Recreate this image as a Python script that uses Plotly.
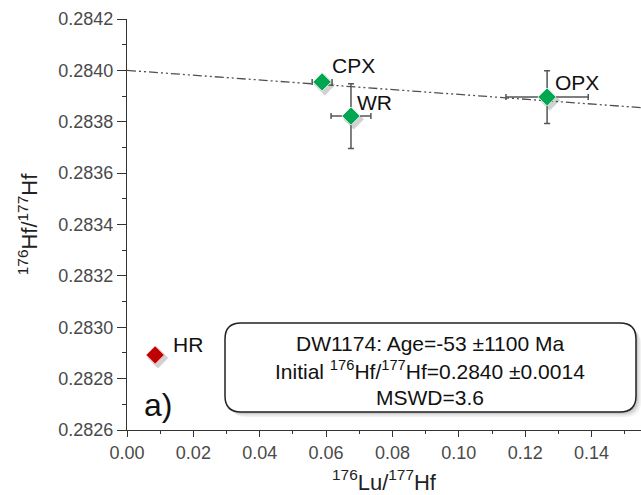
import plotly.graph_objects as go

# Data
names = ["CPX", "WR", "OPX"]
lu_hf = [0.0588, 0.0675, 0.1266]
hf_hf = [0.283955, 0.283822, 0.283896]
err_x = [0.003, 0.006, 0.0124]
err_y = [0.00002, 0.000126, 0.000103]
hr_x = [0.0085]
hr_y = [0.282892]
# isochron
iso_intercept = 0.28400
iso_slope = -0.000936
x_range = [0, 0.1549]
y_range = [0.2826, 0.2842]

W, H = 641, 495
ML, MR, MT, MB = 127, 0, 19, 65
FONT = "Liberation Sans, Arial"

def px(xp):
    return (xp - ML) / (W - ML - MR)

def py(yp):
    return 1 - (yp - MT) / (H - MT - MB)

fig = go.Figure()

# isochron line
lx = [x_range[0], x_range[1]]
ly = [iso_intercept + iso_slope * v for v in lx]
fig.add_trace(go.Scatter(x=lx, y=ly, mode="lines",
                         line=dict(color="#505050", width=1.3, dash="9px,3px,2px,3px,2px,3px"),
                         hoverinfo="skip", showlegend=False))

# shadows
fig.add_trace(go.Scatter(x=[v + 0.0008 for v in lu_hf], y=[v - 0.000012 for v in hf_hf],
                         mode="markers", marker=dict(symbol="diamond", size=16, color="rgba(0,0,0,0.18)"),
                         hoverinfo="skip", showlegend=False))
fig.add_trace(go.Scatter(x=[v + 0.0008 for v in hr_x], y=[v - 0.000012 for v in hr_y],
                         mode="markers", marker=dict(symbol="diamond", size=16, color="rgba(0,0,0,0.18)"),
                         hoverinfo="skip", showlegend=False))

fig.add_trace(go.Scatter(x=lu_hf, y=hf_hf, mode="markers",
                         marker=dict(symbol="diamond", size=14, color="#00a651",
                                     line=dict(color="#d8f0e0", width=1)),
                         error_x=dict(type="data", array=err_x, color="#555555", thickness=1.5, width=3),
                         error_y=dict(type="data", array=err_y, color="#555555", thickness=1.5, width=3),
                         showlegend=False))
fig.add_trace(go.Scatter(x=hr_x, y=hr_y, mode="markers",
                         marker=dict(symbol="diamond", size=14, color="#c00000",
                                     line=dict(color="#f0c0c0", width=1)),
                         showlegend=False))

# point labels
offsets = {"CPX": (8, -16), "WR": (4, -14), "OPX": (6, -15)}
for n, x, y in zip(names, lu_hf, hf_hf):
    dx, dy = offsets[n]
    fig.add_annotation(x=x, y=y, text=n, showarrow=True, arrowcolor="rgba(0,0,0,0)",
                       ax=dx, ay=dy, xanchor="left", yanchor="middle",
                       font=dict(family=FONT, size=21, color="#111"))
fig.add_annotation(x=hr_x[0], y=hr_y[0], text="HR", showarrow=True, arrowcolor="rgba(0,0,0,0)",
                   ax=16, ay=-10, xanchor="left", yanchor="middle",
                   font=dict(family=FONT, size=21, color="#111"))

# rounded box with shadow
def rrect(x0, y0, x1, y1, r):
    X0, X1 = px(x0), px(x1)
    Y0, Y1 = py(y0), py(y1)
    rx = r / (W - ML - MR)
    ry = r / (H - MT - MB)
    return (f"M {X0+rx},{Y0} L {X1-rx},{Y0} Q {X1},{Y0} {X1},{Y0-ry} "
            f"L {X1},{Y1+ry} Q {X1},{Y1} {X1-rx},{Y1} L {X0+rx},{Y1} "
            f"Q {X0},{Y1} {X0},{Y1+ry} L {X0},{Y0-ry} Q {X0},{Y0} {X0+rx},{Y0} Z")

for i, a in enumerate([0.05, 0.07, 0.09]):
    o = 5 - i * 1.5
    fig.add_shape(type="path", xref="paper", yref="paper",
                  path=rrect(225 + o, 323 + o, 636 + o, 412 + o, 16),
                  fillcolor=f"rgba(0,0,0,{a})", line=dict(width=0))
fig.add_shape(type="path", xref="paper", yref="paper",
              path=rrect(225, 323, 636, 412, 16),
              fillcolor="white", line=dict(color="#222", width=1.5))

box_lines = ["DW1174: Age=-53 ±1100 Ma",
             "Initial <sup>176</sup>Hf/<sup>177</sup>Hf=0.2840 ±0.0014",
             "MSWD=3.6"]
for i, t in enumerate(box_lines):
    fig.add_annotation(xref="paper", yref="paper", x=px(430), y=py(343 + i * 27),
                       text=t, showarrow=False, xanchor="center", yanchor="middle",
                       font=dict(family=FONT, size=21, color="#111"))

fig.add_annotation(xref="paper", yref="paper", x=px(142), y=py(405), text="a)",
                   showarrow=False, xanchor="left", yanchor="middle",
                   font=dict(family=FONT, size=32, color="#111"))

tickfont = dict(family=FONT, size=18, color="#4a4a4a")
fig.update_xaxes(range=x_range, tick0=0, dtick=0.02, tickformat=".2f",
                 showgrid=False, zeroline=False, showline=True, linecolor="#333", linewidth=1.2,
                 ticks="outside", ticklen=6, tickcolor="#333",
                 minor=dict(dtick=0.01, ticks="outside", ticklen=3, tickcolor="#333"),
                 tickfont=tickfont,
                 title=dict(text="<sup>176</sup>Lu/<sup>177</sup>Hf", standoff=12,
                            font=dict(family=FONT, size=22, color="#222")))
fig.update_yaxes(range=y_range, tick0=0.2826, dtick=0.0002, tickformat=".4f",
                 showgrid=False, zeroline=False, showline=True, linecolor="#333", linewidth=1.2,
                 ticks="outside", ticklen=9, tickcolor="#333",
                 minor=dict(dtick=0.0001, ticks="outside", ticklen=4, tickcolor="#333"),
                 tickfont=tickfont,
                 title=dict(text="<sup>176</sup>Hf/<sup>177</sup>Hf", standoff=14,
                            font=dict(family=FONT, size=22, color="#222")))

fig.update_layout(width=W, height=H, margin=dict(l=ML, r=MR, t=MT, b=MB, autoexpand=False),
                  plot_bgcolor="white", paper_bgcolor="white", showlegend=False)

fig.write_html("out.html")
